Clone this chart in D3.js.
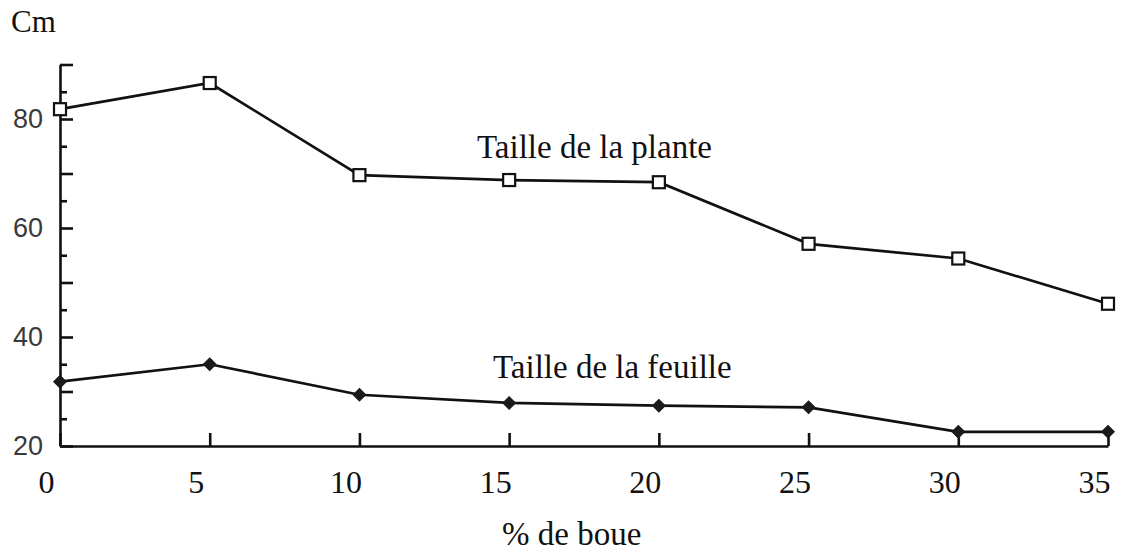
<!DOCTYPE html>
<html>
<head>
<meta charset="utf-8">
<script src="https://cdn.jsdelivr.net/npm/d3@7"></script>
<style>
  body { margin: 0; background: #fff; }
  svg { display: block; }
</style>
</head>
<body>
<script>
// % de boue
const boue = [0, 5, 10, 15, 20, 25, 30, 35];
// Taille de la plante (cm)
const taillePlante = [81.8, 86.6, 69.7, 68.8, 68.4, 57.1, 54.4, 46.1];
// Taille de la feuille (cm)
const tailleFeuille = [31.8, 35.0, 29.4, 27.9, 27.4, 27.1, 22.6, 22.6];
const yLabels = [20, 40, 60, 80];
const yMajor = [20, 30, 40, 50, 60, 70, 80, 90];
const yMinor = [25, 35, 45, 55, 65, 75, 85];

const width = 1125, height = 551;
const serif = "'Liberation Serif', 'Times New Roman', serif";
const sans = "'Liberation Sans', Arial, sans-serif";

const x = d3.scaleLinear().domain([0, 35]).range([60, 1108]);
const y = d3.scaleLinear().domain([20, 90]).range([446, 64.5]);

const svg = d3.select("body").append("svg")
  .attr("width", width)
  .attr("height", height);

// y axis: ticks point inward (to the right)
const yAxis = svg.append("g")
  .attr("transform", "translate(" + x(0) + ",0)")
  .call(d3.axisLeft(y).tickValues(yMajor).tickSizeInner(-13).tickSizeOuter(0)
    .tickPadding(17).tickFormat(d => yLabels.includes(d) ? d : ""));
yAxis.select(".domain").attr("stroke", "#111").attr("stroke-width", 2.6);
yAxis.selectAll(".tick line").attr("stroke", "#111").attr("stroke-width", 2.6);
yAxis.selectAll(".tick text")
  .attr("font-family", sans)
  .attr("font-size", 27)
  .attr("fill", "#3a3a3a");

const yMinorAxis = svg.append("g")
  .attr("transform", "translate(" + x(0) + ",0)")
  .call(d3.axisLeft(y).tickValues(yMinor).tickSizeInner(-7).tickSizeOuter(0).tickFormat(""));
yMinorAxis.select(".domain").remove();
yMinorAxis.selectAll(".tick line").attr("stroke", "#111").attr("stroke-width", 2.6);

// x axis: ticks point up
const xAxis = svg.append("g")
  .attr("transform", "translate(0," + y(20) + ")")
  .call(d3.axisBottom(x).tickValues(boue).tickSizeInner(-13).tickSizeOuter(0).tickPadding(24));
xAxis.select(".domain").attr("stroke", "#111").attr("stroke-width", 2.6);
xAxis.selectAll(".tick line").attr("stroke", "#111").attr("stroke-width", 2.6);
xAxis.selectAll(".tick text")
  .attr("font-family", serif)
  .attr("font-size", 32)
  .attr("dx", -14)
  .attr("fill", "#111");

const line = d3.line()
  .x((d, i) => x(boue[i]))
  .y(d => y(d));

svg.append("path")
  .datum(taillePlante)
  .attr("d", line)
  .attr("fill", "none")
  .attr("stroke", "#111")
  .attr("stroke-width", 2.7);

svg.append("path")
  .datum(tailleFeuille)
  .attr("d", line)
  .attr("fill", "none")
  .attr("stroke", "#111")
  .attr("stroke-width", 2.7);

// open squares
svg.selectAll("rect.plante").data(taillePlante)
  .enter().append("rect")
  .attr("class", "plante")
  .attr("x", (d, i) => x(boue[i]) - 6)
  .attr("y", d => y(d) - 6)
  .attr("width", 12)
  .attr("height", 12)
  .attr("fill", "#fff")
  .attr("stroke", "#111")
  .attr("stroke-width", 2.2);

// filled diamonds
const diamond = d3.symbol().type(d3.symbolSquare).size(80);
svg.selectAll("path.feuille").data(tailleFeuille)
  .enter().append("path")
  .attr("class", "feuille")
  .attr("d", diamond)
  .attr("transform", (d, i) => "translate(" + x(boue[i]) + "," + y(d) + ") rotate(45)")
  .attr("fill", "#1a1a1a")
  .attr("stroke", "#1a1a1a")
  .attr("stroke-width", 1);

// texts
svg.append("text")
  .attr("x", 11)
  .attr("y", 32)
  .attr("font-family", serif)
  .attr("font-size", 31)
  .attr("fill", "#111")
  .text("Cm");

svg.append("text")
  .attr("x", 477)
  .attr("y", 158)
  .attr("font-family", serif)
  .attr("font-size", 33)
  .attr("fill", "#111")
  .text("Taille de la plante");

svg.append("text")
  .attr("x", 493)
  .attr("y", 378)
  .attr("font-family", serif)
  .attr("font-size", 33)
  .attr("fill", "#111")
  .text("Taille de la feuille");

svg.append("text")
  .attr("x", 502)
  .attr("y", 545)
  .attr("font-family", serif)
  .attr("font-size", 33)
  .attr("fill", "#111")
  .text("% de boue");
</script>
</body>
</html>
